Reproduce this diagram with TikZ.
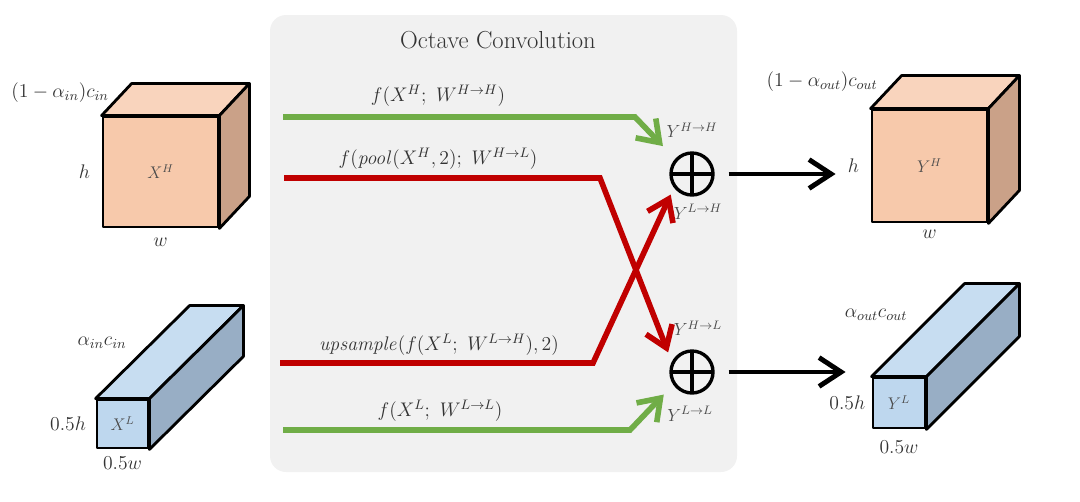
\RequirePackage{fix-cm}
\documentclass[tikz,border=0pt]{standalone}
\usepackage{amsmath}
\usetikzlibrary{arrows.meta,positioning,calc}

\definecolor{hfront}{RGB}{247,201,171}
\definecolor{htop}{RGB}{249,212,189}
\definecolor{hside}{RGB}{202,161,136}
\definecolor{lfront}{RGB}{190,215,238}
\definecolor{ltop}{RGB}{199,221,241}
\definecolor{lside}{RGB}{152,174,197}
\definecolor{hhgreen}{RGB}{112,173,71}
\definecolor{hlred}{RGB}{192,0,0}
\definecolor{panelgray}{RGB}{241,241,241}

\begin{document}
\begin{tikzpicture}[x=0.025cm,y=-0.025cm]
% Styles
\tikzset{
    face/.style={draw, line width=2pt, line join=round, inner sep=0pt,
        text=black!70, font=\fontsize{12}{14}\selectfont},
    hface/.style={face, fill=hfront},
    lface/.style={face, fill=lfront},
    cubeedge/.style={draw, line width=2pt, line join=round},
    lbl/.style={text=black!80, inner sep=1pt, font=\fontsize{14}{16}\selectfont},
    ylbl/.style={text=black!70, inner sep=1pt, font=\fontsize{12.5}{14}\selectfont},
    sum/.style={circle, draw, line width=2.4pt, minimum size=1.05cm, inner sep=0pt,
        path picture={\draw[line width=2.4pt]
            (path picture bounding box.north) -- (path picture bounding box.south)
            (path picture bounding box.west) -- (path picture bounding box.east);}},
    hpath/.style={line width=4pt, draw=hhgreen, line join=miter,
        -{Straight Barb[length=5mm, width=7mm]}},
    xpath/.style={line width=4pt, draw=hlred, line join=miter,
        -{Straight Barb[length=5mm, width=7mm]}},
    outarrow/.style={line width=3.5pt, draw=black,
        -{Straight Barb[length=5.5mm, width=7.2mm]}}
}
\useasboundingbox (0,0) rectangle (1080,501);

% Panel
\fill[panelgray, rounded corners=0.4cm] (270,15) rectangle (737,472);
\node[font=\fontsize{17.5}{20}\selectfont, text=black!80] (title) at (498,40) {Octave Convolution};

% Nodes
\node[hface, minimum width=2.875cm, minimum height=2.75cm] (XH) at (160.5,172) {$X^H$};
\node[lface, minimum width=1.275cm, minimum height=1.2cm] (XL) at (122.5,424) {$X^L$};
\node[hface, minimum width=2.875cm, minimum height=2.8cm] (YH) at (929.5,166) {$Y^H$};
\node[lface, minimum width=1.3cm, minimum height=1.25cm] (YL) at (899,403) {$Y^L$};

\foreach \c/\dx/\dy/\tp/\sd in {XH/30/-32/htop/hside, XL/94/-93/ltop/lside,
                                YH/31/-33/htop/hside, YL/93/-93/ltop/lside}{
    \filldraw[cubeedge, fill=\tp] (\c.north west) -- ++(\dx,\dy)
        -- ($(\c.north east)+(\dx,\dy)$) -- (\c.north east) -- cycle;
    \filldraw[cubeedge, fill=\sd] (\c.north east) -- ++(\dx,\dy)
        -- ($(\c.south east)+(\dx,\dy)$) -- (\c.south east) -- cycle;
}

\node[lbl] (cinH) at (60,93) {$(1-\alpha_{in})c_{in}$};
\node[lbl, left=0.25cm of XH] (hXH) {$h$};
\node[lbl, below=0.2cm of XH] (wXH) {$w$};
\node[lbl] (cinL) at (102,343) {$\alpha_{in}c_{in}$};
\node[lbl, left=0.2cm of XL] (hXL) {$0.5h$};
\node[lbl, below=0.15cm of XL] (wXL) {$0.5w$};

\node[lbl] (coutH) at (822,82) {$(1-\alpha_{out})c_{out}$};
\node[lbl, left=0.25cm of YH] (hYH) {$h$};
\node[lbl, below=0.12cm of YH] (wYH) {$w$};
\node[lbl] (coutL) at (876,315) {$\alpha_{out}c_{out}$};
\node[lbl, left=0.12cm of YL] (hYL) {$0.5h$};
\node[lbl, below=0.25cm of YL] (wYL) {$0.5w$};

\node[sum] (sumH) at (692,174) {};
\node[sum] (sumL) at (692,372) {};
\node[ylbl, above=0.3cm of sumH] (yHH) {$Y^{H\to H}$};
\node[ylbl, below=0.15cm of sumH, xshift=0.15cm] (yLH) {$Y^{L\to H}$};
\node[ylbl, above=0.3cm of sumL, xshift=0.15cm] (yHL) {$Y^{H\to L}$};
\node[ylbl, below=0.25cm of sumL, xshift=-0.05cm] (yLL) {$Y^{L\to L}$};

\node[lbl] (fHH) at (438,96) {$f(X^H;\ W^{H\to H})$};
\node[lbl] (fHL) at (438,159) {$f(\mathit{pool}(X^H,2);\ W^{H\to L})$};
\node[lbl] (fLH) at (439,345) {$\mathit{upsample}(f(X^L;\ W^{L\to H}),2)$};
\node[lbl] (fLL) at (440,411) {$f(X^L;\ W^{L\to L})$};

\coordinate (inHH) at (283,117);
\coordinate (bHH) at (635,117);
\coordinate (inHL) at (284,178);
\coordinate (bHL) at (600,178);
\coordinate (inLH) at (280,363);
\coordinate (bLH) at (593,363);
\coordinate (inLL) at (283,430);
\coordinate (bLL) at (630,430);

% Connections
\draw[hpath, shorten >=0.44cm] (inHH) -- (bHH) -- (sumH.138);
\draw[xpath, shorten >=0.25cm] (inHL) -- (bHL) -- (sumL.153);
\draw[xpath, shorten >=0.19cm] (inLH) -- (bLH) -- (sumH.217);
\draw[hpath, shorten >=0.34cm] (inLL) -- (bLL) -- (sumL.214);

\draw[outarrow, shorten <=0.35cm, shorten >=0.875cm] (sumH) -- (sumH -| YH.west);
\draw[outarrow, shorten <=0.35cm, shorten >=0.65cm] (sumL) -- (sumL -| YL.west);
\end{tikzpicture}
\end{document}
